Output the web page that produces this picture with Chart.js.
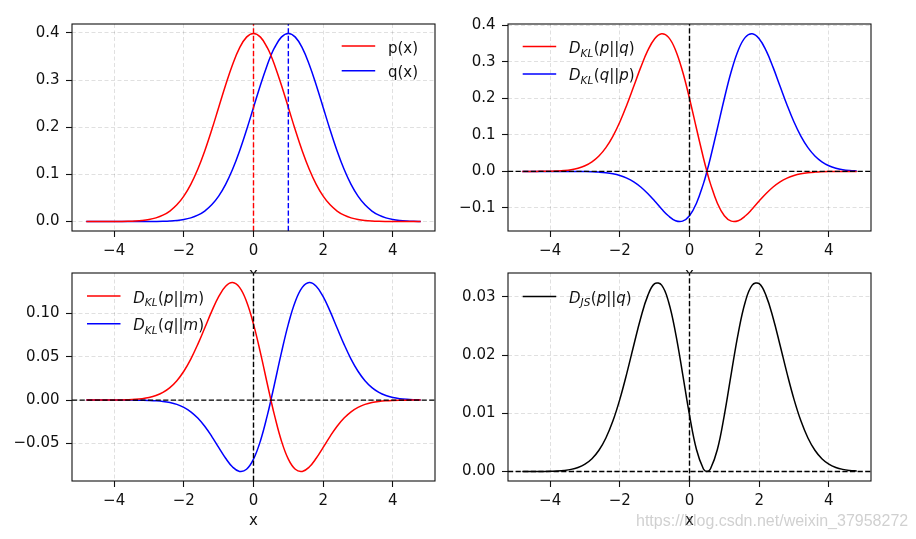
<!DOCTYPE html>
<html>
<head>
<meta charset="utf-8">
<script src="https://cdn.jsdelivr.net/npm/chart.js@4/dist/chart.umd.min.js"></script>
<style>
  html, body { margin: 0; padding: 0; background: #fff; }
  #wrap { position: relative; width: 916px; height: 539px; overflow: hidden; background: #fff; }
  canvas { position: absolute; }
  #wm { position: absolute; left: 636px; top: 512px; font: 16px 'Liberation Sans', Arial, sans-serif; line-height: 17px;
        color: rgba(150,150,150,0.45); white-space: nowrap; z-index: 10; }
</style>
</head>
<body>
<div id="wrap">
  <canvas id="cTL" width="458" height="300" style="left:0px;top:0px;z-index:1"></canvas>
  <canvas id="cTR" width="466" height="300" style="left:450px;top:0px;z-index:1"></canvas>
  <canvas id="cBL" width="458" height="289" style="left:0px;top:250px;z-index:2"></canvas>
  <canvas id="cBR" width="466" height="289" style="left:450px;top:250px;z-index:2"></canvas>
  <div id="wm">https://blog.csdn.net/weixin_37958272</div>
</div>
<script>
// ---------------- data ----------------
const xs = [-4.8,-4.6,-4.4,-4.2,-4.0,-3.8,-3.6,-3.4,-3.2,-3.0,-2.8,-2.6,-2.4,-2.2,-2.0,-1.8,-1.6,-1.4,-1.2,-1.0,-0.8,-0.6,-0.4,-0.2,
            0.0,0.2,0.4,0.5,0.6,0.8,1.0,1.2,1.4,1.6,1.8,2.0,2.2,2.4,2.6,2.8,3.0,3.2,3.4,3.6,3.8,4.0,4.2,4.4,4.6,4.8];

const pX = [0.000004,0.00001,0.000025,0.000059,0.000134,0.000292,0.000612,0.001232,0.002384,0.004432,0.007915,0.013583,0.022395,0.035475,0.053991,0.07895,0.110921,0.149727,0.194186,0.241971,0.289692,0.333225,0.36827,0.391043,
            0.398942,0.391043,0.36827,0.352065,0.333225,0.289692,0.241971,0.194186,0.149727,0.110921,0.07895,0.053991,0.035475,0.022395,0.013583,0.007915,0.004432,0.002384,0.001232,0.000612,0.000292,0.000134,0.000059,0.000025,0.00001,0.000004];

const qX = [0,0,0,0.000001,0.000001,0.000004,0.00001,0.000025,0.000059,0.000134,0.000292,0.000612,0.001232,0.002384,0.004432,0.007915,0.013583,0.022395,0.035475,0.053991,0.07895,0.110921,0.149727,0.194186,
            0.241971,0.289692,0.333225,0.352065,0.36827,0.391043,0.398942,0.391043,0.36827,0.333225,0.289692,0.241971,0.194186,0.149727,0.110921,0.07895,0.053991,0.035475,0.022395,0.013583,0.007915,0.004432,0.002384,0.001232,0.000612,0.000292];

const klPQ = [0.000021,0.000052,0.000122,0.000277,0.000603,0.001256,0.002509,0.004805,0.008821,0.015512,0.02612,0.042107,0.064946,0.095783,0.134978,0.181585,0.232934,0.284481,0.330116,0.362957,0.3766,0.366548,0.331443,0.27373,
              0.199471,0.117313,0.036827,0,-0.033323,-0.086908,-0.120986,-0.13593,-0.134754,-0.122013,-0.102635,-0.080987,-0.060308,-0.042551,-0.028524,-0.018205,-0.01108,-0.006437,-0.003573,-0.001897,-0.000964,-0.000469,-0.000218,-0.000097,-0.000041,-0.000017];

const klQP = [-0.0000001,-0.0000003,-0.0000009,-0.0000025,-0.0000067,-0.000017,-0.000041,-0.000097,-0.000218,-0.000469,-0.000964,-0.001897,-0.003573,-0.006437,-0.01108,-0.018205,-0.028524,-0.042551,-0.060308,-0.080987,-0.102635,-0.122013,-0.134754,-0.13593,
              -0.120986,-0.086908,-0.033323,0,0.036827,0.117313,0.199471,0.27373,0.331443,0.366548,0.3766,0.362957,0.330116,0.284481,0.232934,0.181585,0.134978,0.095783,0.064946,0.042107,0.02612,0.015512,0.008821,0.004805,0.002509,0.001256];

const klPM = [0.0000027,0.0000069,0.0000171,0.0000403,0.0000914,0.0001985,0.000414,0.000829,0.001594,0.00294,0.0052,0.008816,0.014323,0.022282,0.033164,0.047181,0.064071,0.082913,0.102017,0.118985,0.130981,0.135227,0.129628,0.113386,
              0.087396,0.054274,0.017952,0,-0.017079,-0.046701,-0.067977,-0.079624,-0.082051,-0.077,-0.066939,-0.054437,-0.04167,-0.030149,-0.020678,-0.013475,-0.008358,-0.004939,-0.002785,-0.0015,-0.000772,-0.00038,-0.000179,-0.0000803,-0.0000346,-0.0000143];

const klQM = [-0.0000001,-0.0000003,-0.0000008,-0.0000022,-0.0000057,-0.0000143,-0.0000346,-0.0000803,-0.000179,-0.00038,-0.000772,-0.0015,-0.002785,-0.004939,-0.008358,-0.013475,-0.020678,-0.030149,-0.04167,-0.054437,-0.066939,-0.077,-0.082051,-0.079624,
              -0.067977,-0.046701,-0.017079,0,0.017952,0.054274,0.087396,0.113386,0.129628,0.135227,0.130981,0.118985,0.102017,0.082913,0.064071,0.047181,0.033164,0.022282,0.014323,0.008816,0.0052,0.00294,0.001594,0.000829,0.000414,0.0001985];

const jsPQ = [0.0000013,0.0000033,0.0000082,0.0000191,0.0000429,0.0000921,0.00019,0.000374,0.000708,0.00128,0.002214,0.003658,0.005769,0.008672,0.012403,0.016853,0.021697,0.026382,0.030174,0.032274,0.032021,0.029114,0.023789,0.016881,
              0.00971,0.003787,0.000437,0,0.000437,0.003787,0.00971,0.016881,0.023789,0.029114,0.032021,0.032274,0.030174,0.026382,0.021697,0.016853,0.012403,0.008672,0.005769,0.003658,0.002214,0.00128,0.000708,0.000374,0.00019,0.0000921];

// tick labels
const xTicks  = [-4, -2, 0, 2, 4];
const yTicksTL = [0.0, 0.1, 0.2, 0.3, 0.4];
const yTicksTR = [-0.1, 0.0, 0.1, 0.2, 0.3, 0.4];
const yTicksBL = [-0.05, 0.00, 0.05, 0.10];
const yTicksBR = [0.00, 0.01, 0.02, 0.03];

// legend labels
const labelsTL = ['p(x)', 'q(x)'];
const labelsTR = ['$D_{KL}(p||q)$', '$D_{KL}(q||p)$'];
const labelsBL = ['$D_{KL}(p||m)$', '$D_{KL}(q||m)$'];
const labelsBR = ['$D_{JS}(p||q)$'];

// reference (dashed) lines
const vLinesTL = [0, 1];
const vLinesOther = [0];
const hLinesOther = [0];

// ---------------- drawing helpers ----------------
const FAM = "'DejaVu Sans', sans-serif";
const FS = 15;
const TXT = '#111';
const RED = '#ff0000', BLUE = '#0000ff', BLACK = '#000000';

function fmt(v, dec) {
  const s = Math.abs(v).toFixed(dec);
  return (v < -1e-12 ? '\u2212' : '') + s;
}

function drawLabel(ctx, s, x, base) {
  ctx.save();
  ctx.fillStyle = TXT; ctx.textBaseline = 'alphabetic'; ctx.textAlign = 'left';
  if (s[0] !== '$') { ctx.font = FS + 'px ' + FAM; ctx.fillText(s, x, base); ctx.restore(); return; }
  const body = s.slice(1, -1);
  let cx = x, i = 0;
  const put = (t, italic, size, dy) => {
    ctx.font = (italic ? 'italic ' : '') + size + 'px ' + FAM;
    ctx.fillText(t, cx, base + dy);
    cx += ctx.measureText(t).width;
  };
  while (i < body.length) {
    const c = body[i];
    if (c === '_' && body[i + 1] === '{') {
      const j = body.indexOf('}', i);
      put(body.slice(i + 2, j), true, FS * 0.7, 3.4);
      cx += 0.5;
      i = j + 1; continue;
    }
    put(c, /[A-Za-z]/.test(c), FS, 0);
    i++;
  }
  ctx.restore();
}

const framePlugin = {
  id: 'frame',
  beforeDraw(chart) {
    const {ctx, chartArea: a} = chart;
    ctx.save(); ctx.fillStyle = '#fff';
    ctx.fillRect(a.left, a.top, a.right - a.left, a.bottom - a.top);
    ctx.restore();
  },
  afterDatasetsDraw(chart, args, o) {
    const {ctx, chartArea: a} = chart;
    const sx = chart.scales.x, sy = chart.scales.y;
    ctx.save();
    ctx.beginPath(); ctx.rect(a.left, a.top, a.right - a.left, a.bottom - a.top); ctx.clip();
    ctx.lineWidth = 1.4; ctx.setLineDash([5.2, 2.4]);
    (o.vlines || []).forEach((v, k) => {
      const px = sx.getPixelForValue(v);
      ctx.strokeStyle = o.vcolors[k];
      ctx.beginPath(); ctx.moveTo(px, a.bottom); ctx.lineTo(px, a.top); ctx.stroke();
    });
    (o.hlines || []).forEach((v, k) => {
      const py = sy.getPixelForValue(v);
      ctx.strokeStyle = o.hcolors[k];
      ctx.beginPath(); ctx.moveTo(a.left, py); ctx.lineTo(a.right, py); ctx.stroke();
    });
    ctx.restore();
    // legend (no frame, like the reference)
    const lx = o.legendRight ? a.right - o.legendDx : a.left + o.legendDx;
    const ly = a.top + o.legendDy;
    o.labels.forEach((lab, k) => {
      const y = ly + k * o.legendStep;
      ctx.save();
      ctx.strokeStyle = o.colors[k]; ctx.lineWidth = 1.5; ctx.setLineDash([]);
      ctx.beginPath(); ctx.moveTo(lx, y); ctx.lineTo(lx + 33.5, y); ctx.stroke();
      ctx.restore();
      drawLabel(ctx, lab, lx + 46.3, y + 6.5);
    });
    // axes frame
    ctx.save();
    ctx.strokeStyle = '#111'; ctx.lineWidth = 1.1; ctx.setLineDash([]);
    ctx.strokeRect(a.left, a.top, a.right - a.left, a.bottom - a.top);
    ctx.restore();
  }
};

function series(arr, color) {
  return {
    data: xs.map((x, i) => ({x: x, y: arr[i]})),
    borderColor: color, borderWidth: 1.5, pointRadius: 0, tension: 0.4, fill: false
  };
}

function makeChart(id, datasets, yMin, yMax, yTicks, yDec, yWidth, xHeight, pad, frameOpts) {
  const font = {family: FAM, size: FS};
  return new Chart(document.getElementById(id), {
    type: 'line',
    data: {datasets: datasets},
    options: {
      responsive: false, animation: false, events: [],
      layout: {padding: pad},
      plugins: {legend: {display: false}, tooltip: {enabled: false}, frame: frameOpts},
      scales: {
        x: {
          type: 'linear', min: -5.21, max: 5.21,
          afterBuildTicks: s => { s.ticks = xTicks.map(v => ({value: v})); },
          afterFit: s => { s.height = xHeight; },
          grid: {color: 'rgba(0,0,0,0.12)', lineWidth: 1, tickColor: '#111', tickWidth: 1.1, tickLength: 6, tickBorderDash: []},
          border: {display: false, dash: [4, 2.5]},
          ticks: {font: font, color: TXT, padding: 5.5, maxRotation: 0, autoSkip: false, callback: v => fmt(v, 0)},
          title: {display: true, text: 'x', font: font, color: TXT, padding: 0}
        },
        y: {
          type: 'linear', min: yMin, max: yMax,
          afterBuildTicks: s => { s.ticks = yTicks.map(v => ({value: v})); },
          afterFit: s => { s.width = yWidth; },
          grid: {color: 'rgba(0,0,0,0.12)', lineWidth: 1, tickColor: '#111', tickWidth: 1.1, tickLength: 6, tickBorderDash: []},
          border: {display: false, dash: [4, 2.5]},
          ticks: {font: font, color: TXT, padding: 6.5, autoSkip: false, callback: v => fmt(v, yDec)}
        }
      }
    },
    plugins: [framePlugin]
  });
}

// top-left: p(x), q(x)
makeChart('cTL', [series(pX, RED), series(qX, BLUE)], -0.01995, 0.4189, yTicksTL, 1, 72, 53,
  {left: 0, top: 24, right: 23, bottom: 16},
  {vlines: vLinesTL, vcolors: [RED, BLUE], hlines: [], hcolors: [],
   labels: labelsTL, colors: [RED, BLUE], legendRight: true, legendDx: 93.3, legendDy: 22, legendStep: 24.7});

// top-right: KL(p||q), KL(q||p)
makeChart('cTR', [series(klPQ, RED), series(klQP, BLUE)], -0.1629, 0.4031, yTicksTR, 1, 58, 53,
  {left: 0, top: 24, right: 45, bottom: 16},
  {vlines: vLinesOther, vcolors: [BLACK], hlines: hLinesOther, hcolors: [BLACK],
   labels: labelsTR, colors: [RED, BLUE], legendRight: false, legendDx: 14.7, legendDy: 22.6, legendStep: 27.3});

// bottom-left: KL(p||m), KL(q||m)
makeChart('cBL', [series(klPM, RED), series(klQM, BLUE)], -0.0931, 0.1462, yTicksBL, 2, 72, 49,
  {left: 0, top: 23, right: 23, bottom: 9},
  {vlines: vLinesOther, vcolors: [BLACK], hlines: hLinesOther, hcolors: [BLACK],
   labels: labelsBL, colors: [RED, BLUE], legendRight: false, legendDx: 15, legendDy: 23, legendStep: 27.7});

// bottom-right: JS(p||q)
makeChart('cBR', [series(jsPQ, BLACK)], -0.00162, 0.0341, yTicksBR, 2, 58, 49,
  {left: 0, top: 23, right: 45, bottom: 9},
  {vlines: vLinesOther, vcolors: [BLACK], hlines: hLinesOther, hcolors: [BLACK],
   labels: labelsBR, colors: [BLACK], legendRight: false, legendDx: 14.7, legendDy: 23.4, legendStep: 27.3});
</script>
</body>
</html>
